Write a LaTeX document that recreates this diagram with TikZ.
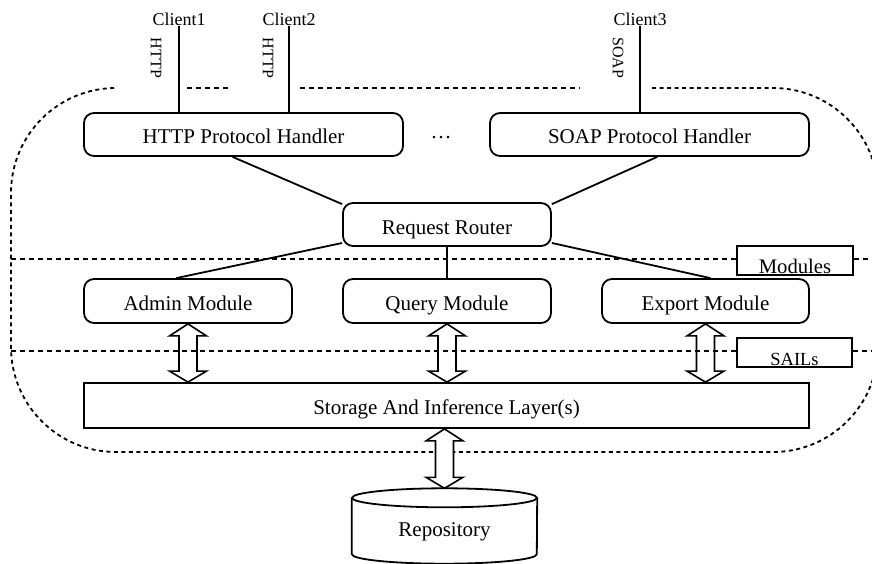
\documentclass[tikz,border=0pt]{standalone}
\usepackage{fontspec}
\setmainfont{Liberation Serif}
\usetikzlibrary{calc}
\newcommand\fbig{\fontsize{21}{24}\selectfont}
\newcommand\fcl{\fontsize{18}{20}\selectfont}
\newcommand\fvert{\fontsize{16}{18}\selectfont}
\newcommand\fsail{\fontsize{18.5}{20}\selectfont}
\newcommand\fmod{\fontsize{20.7}{23}\selectfont}
\newcommand\dblarr[3][]{%
  \draw[fatarrow,#1] let \p1=(#2), \p2=(#3) in
    (\x1,\y1) -- ++(18.5pt,-12pt) -- ++(-9.5pt,0pt) -- (\x1+9pt,\y2+11pt)
    -- ++(9.5pt,0pt) -- (\x1,\y2) -- ++(-18.5pt,11pt) -- ++(9.5pt,0pt)
    -- (\x1-9pt,\y1-12pt) -- ++(-9.5pt,0pt) -- cycle;}
\begin{document}
\begin{tikzpicture}[x=1pt,y=-1pt,
  box/.style={draw,line width=1.8pt,rounded corners=10pt,minimum width=#1,
    minimum height=43pt,inner sep=0pt,font=\fbig,text height=19pt,text depth=0pt},
  sq/.style={draw,line width=1.8pt,inner sep=0pt},
  conn/.style={line width=1.8pt},
  cline/.style={line width=2.6pt},
  dsh/.style={line width=1.8pt,dash pattern=on 5pt off 4pt},
  bnd/.style={line width=1.8pt,dash pattern=on 4pt off 3.5pt,rounded corners=105pt},
  fatarrow/.style={draw,line width=1.6pt,line join=miter},
  cl/.style={font=\fcl,inner sep=0pt},
  vlab/.style={font=\fvert,inner sep=0pt,rotate=-90}]
\useasboundingbox (0,0) rectangle (872,564);
\clip (0,0) rectangle (872,564);

% boundary
\draw[bnd] (652,88) -- (878,88) -- (878,452) -- (11,452) -- (11,88) -- (116,88);
\draw[dsh] (187,88) -- (230,88);
\draw[dsh] (300,88) -- (580,88);

% nodes
\node[box=319pt] (http) at (243.5,134.5) {HTTP Protocol Handler};
\node[box=319pt] (soap) at (649.5,134.5) {SOAP Protocol Handler};
\node[font=\fbig,anchor=base,inner sep=0pt] (dots) at (441,139) {\ldots};
\node[box=208pt] (router) at (447,224.5) {Request Router};
\node[box=208pt,minimum height=44pt] (admin) at (188,301) {Admin Module};
\node[box=208pt,minimum height=44pt] (query) at (447,301) {Query Module};
\node[box=207pt,minimum height=44pt] (export) at (705.5,301) {Export Module};
\node[sq,minimum width=725pt,minimum height=45pt,font=\fbig,text height=17pt,text depth=0pt] (storage) at (446.5,405.5) {Storage And Inference Layer(s)};
\node[sq,minimum width=116pt,minimum height=29pt,
  label={[font=\fmod,yshift=-5.5pt]center:Modules}] (modules) at (795,260.5) {};
\node[sq,minimum width=115pt,minimum height=29pt,
  label={[font=\fsail,yshift=-6.5pt]center:SAILs}] (sails) at (794.5,352.5) {};

% repository cylinder
\node[minimum width=185pt,minimum height=56pt,inner sep=0pt,
  label={[font=\fbig,yshift=-6pt]center:Repository}] (repo) at (444.5,526) {};
\coordinate (repotop) at ($(repo.north)+(0,-9.5)$);
\draw[line width=1.8pt] (repo.north) ellipse [x radius=92.5pt, y radius=9.5pt];
\draw[line width=1.8pt] (repo.north west) -- (repo.south west)
  arc[start angle=180,end angle=360,x radius=92.5pt,y radius=9.5pt] -- (repo.north east);

% clients
\node[cl] (c1) at (179,19) {Client1};
\node[cl] (c2) at (289,19) {Client2};
\node[cl] (c3) at (640,19) {Client3};
\draw[cline] (c1.south) -- (c1.south |- http.north);
\draw[cline] (c2.south) -- (c2.south |- http.north);
\draw[cline] (c3.south) -- (c3.south |- soap.north);
\node[vlab] (p1) at (156,58) {HTTP};
\node[vlab] (p2) at (268,58) {HTTP};
\node[vlab] (p3) at (618,58) {SOAP};

% connectors
\draw[conn] (http.244) -- (router.169);
\draw[conn] (soap.289) -- (router.11);
\draw[conn] (router.190) -- (admin.117);
\draw[conn] (router.south) -- (query.north);
\draw[conn] (router.350) -- (export.78);

% layer lines
\coordinate (mL) at (11,259);
\coordinate (mR) at (872,259);
\coordinate (sL) at (11,351);
\coordinate (sR) at (872,351);
\draw[dsh] (mL) -- (mL -| modules.west);
\draw[dsh] (mR -| modules.east) -- (mR);
\draw[dsh] (sL) -- (sL -| sails.west);
\draw[dsh] (sR -| sails.east) -- (sR);

% double arrows
\dblarr{admin.south}{storage.north}
\dblarr{query.south}{storage.north}
\dblarr{export.south}{storage.north}
\dblarr[fill=white]{repo.north |- storage.south}{repotop}
\end{tikzpicture}
\end{document}
